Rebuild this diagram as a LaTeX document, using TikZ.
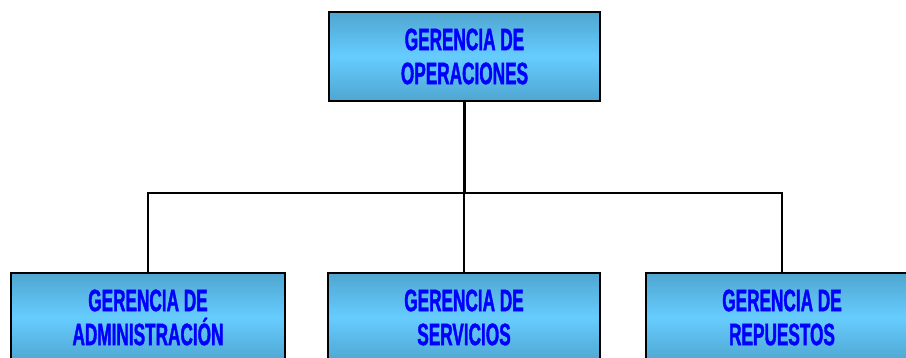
\documentclass[tikz,border=0pt]{standalone}
\usepackage{fontspec}
\newfontfamily\orgfont[FakeStretch=0.555,FakeBold=1.2]{Liberation Sans Bold}
\usepackage{tikz}
\usepackage{xcolor}
\usetikzlibrary{positioning}

\definecolor{boxedge}{HTML}{4FA6D0}
\definecolor{boxmid}{HTML}{66CCFF}
\definecolor{boxtext}{HTML}{0000FF}

\begin{document}
\begin{tikzpicture}[x=1pt,y=-1pt,
            gerencia/.style={shape=rectangle, draw=black, line width=1.2pt,
                minimum width=272pt, minimum height=89pt, inner sep=0pt,
                top color=boxedge, bottom color=boxedge, middle color=boxmid,
                align=center, text=boxtext,
                font=\orgfont\fontsize{31}{34}\selectfont},
            link/.style={line width=2.4pt, color=black}]
        \useasboundingbox (0,0) rectangle (906,358);

        \node[gerencia, minimum width=271pt] (oper) at (464.5,56.5) {GERENCIA DE\\OPERACIONES};

        \node[gerencia, minimum width=274pt] (admin) at (148,317.5) {GERENCIA DE\\ADMINISTRACIÓN};
        \node[gerencia] (serv) at (464,317.5) {GERENCIA DE\\SERVICIOS};
        \node[gerencia] (rep) at (782,317.5) {GERENCIA DE\\REPUESTOS};

        \coordinate (bus) at (464.5,193);

        \draw[link] (oper.south) -- (bus);
        \draw[link] (admin.north) |- (bus) -| (rep.north);
        \draw[link] (serv.north) -- (serv.north |- bus);
    \end{tikzpicture}
\end{document}
